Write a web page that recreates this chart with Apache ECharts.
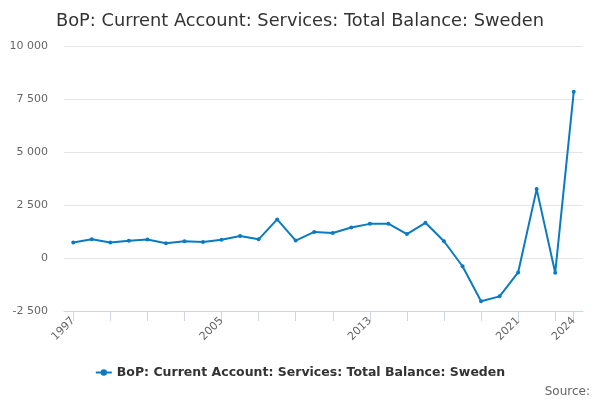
<!DOCTYPE html>
<html>
<head>
<meta charset="utf-8">
<script src="https://cdn.jsdelivr.net/npm/echarts@6/dist/echarts.min.js"></script>
<style>
  html, body { margin: 0; padding: 0; background: #fff; }
  #chart { width: 600px; height: 400px; }
</style>
</head>
<body>
<div id="chart"></div>
<script>
// years and balance values
var years = ["1997","1998","1999","2000","2001","2002","2003","2004","2005","2006",
             "2007","2008","2009","2010","2011","2012","2013","2014","2015","2016",
             "2017","2018","2019","2020","2021","2022","2023","2024"];
var balance = [730, 880, 730, 810, 870, 700, 790, 750, 860, 1040,
               880, 1820, 820, 1230, 1180, 1440, 1610, 1620, 1130, 1660,
               790, -390, -2040, -1810, -680, 3250, -700, 7840];
var seriesName = "BoP: Current Account: Services: Total Balance: Sweden";

var last = years.length - 1;
// ticks every second year plus the final year
var tickIdx = [];
for (var i = 0; i < last; i += 2) tickIdx.push(i);
tickIdx.push(last);

function fmt(v) {
    var s = Math.abs(v).toString().replace(/\B(?=(\d{3})+(?!\d))/g, " ");
    return (v < 0 ? "-" : "") + s;
}

var myChart = echarts.init(document.getElementById("chart"));
myChart.setOption({
    animation: false,
    textStyle: { fontFamily: "DejaVu Sans" },
    title: {
        text: seriesName,
        left: "center",
        top: 7,
        textStyle: { fontSize: 17.8, fontWeight: "normal", color: "#333", fontFamily: "DejaVu Sans" }
    },
    legend: {
        bottom: 16,
        left: "center",
        itemWidth: 16,
        itemHeight: 8,
        textStyle: { fontSize: 12.5, fontWeight: "bold", color: "#333", fontFamily: "DejaVu Sans" },
        data: [seriesName]
    },
    graphic: [{
        type: "text",
        right: 10,
        bottom: 2,
        style: { text: "Source:", fontSize: 12, fill: "#666", fontFamily: "DejaVu Sans" }
    }],
    grid: { left: 64, right: 17, top: 46, bottom: 89 },
    xAxis: {
        type: "category",
        data: years,
        boundaryGap: true,
        axisLine: { show: true, onZero: false, lineStyle: { color: "#ccd6eb" } },
        axisTick: {
            show: true,
            alignWithLabel: true,
            length: 10,
            lineStyle: { color: "#ccd6eb" },
            customValues: tickIdx
        },
        axisLabel: {
            rotate: 45,
            color: "#666",
            fontSize: 11,
            interval: function (i) { return (i % 8 === 0) || i === last; }
        }
    },
    yAxis: {
        type: "value",
        min: -2500,
        max: 10000,
        interval: 2500,
        axisLine: { show: false },
        axisTick: { show: false },
        splitLine: { lineStyle: { color: "#e6e6e6" } },
        axisLabel: { color: "#666", fontSize: 11, margin: 16, formatter: fmt }
    },
    series: [{
        name: seriesName,
        type: "line",
        data: balance,
        color: "#0a7bc2",
        symbol: "circle",
        symbolSize: 4,
        lineStyle: { width: 2 }
    }]
});
</script>
</body>
</html>
